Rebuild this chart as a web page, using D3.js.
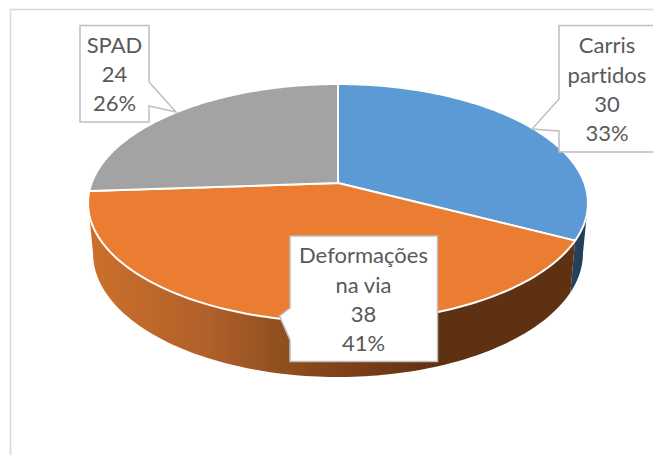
<!DOCTYPE html>
<html><head><meta charset="utf-8">
<style>html,body{margin:0;padding:0;background:#fff;overflow:hidden}svg{display:block}text{font-family:Lato,"Open Sans",sans-serif;font-size:22px;fill:#595959;text-anchor:middle;font-variant-ligatures:none}</style>
<script src="https://cdn.jsdelivr.net/npm/d3@7"></script></head><body>
<script>
const categories = ["Carris partidos", "Deformações na via", "SPAD"];
const values = [30, 38, 24];
const labelLines = [["Carris", "partidos"], ["Deformações", "na via"], ["SPAD"]];
const topColors = ["#5b9ad5", "#ea7d32", "#a3a3a3"];
const wallStops = [
  [["0%", "#24425e"], ["100%", "#1f3d58"]],
  [["0%", "#cc702b"], ["25%", "#b0602a"], ["40%", "#8f4f1e"], ["52%", "#80401a"], ["72%", "#5f3113"], ["100%", "#5f3113"]],
  [["0%", "#636363"], ["100%", "#636363"]]
];
const boxes = [
  {x0:559,x1:656,y0:25.5,y1:152,tip:[532,129],ya:99,yb:131,side:"l",cx:607,base:[53,83,112,141]},
  {x0:290,x1:437.5,y0:236,y1:361.5,tip:[279.5,316],ya:308,yb:340,side:"l",cx:363.5,base:[263,293,322,351]},
  {x0:80,x1:149,y0:25.5,y1:122,tip:[176,112],ya:82,yb:106,side:"r",cx:114.5,base:[53,82,111]}
];
const W = 653, H = 455, ecc = 0.168, depthOff = 49.5, depthY = 1.04, bottomX = 0.98;
const sx = d3.scaleLinear().domain([-1, 1]).range([338 - 246.4, 338 + 246.4]);
const sy = d3.scaleLinear().domain([-1, 1]).range([183 + 115.6, 183 - 115.6]);
function proj(a, bottom) {
  const d = 1 + ecc * Math.cos(a), u = Math.sin(a) / d, v = Math.cos(a) / d;
  if (!bottom) return [sx(u), sy(v)];
  return [338 + (sx(u) - 338) * bottomX, 183 + depthOff + (sy(v) - 183) * depthY];
}
const arcPts = (a0, a1, bottom) => d3.range(0, 121).map(i => proj(a0 + (a1 - a0) * i / 120, bottom));
const line = d3.line();
const svg = d3.select("body").append("svg").attr("width", W).attr("height", H);
const defs = svg.append("defs");
svg.append("rect").attr("width", W).attr("height", H).attr("fill", "#fff");
svg.append("rect").attr("x", 10.5).attr("y", 9.5).attr("width", 700).attr("height", 600)
  .attr("fill", "none").attr("stroke", "#d9d9d9").attr("stroke-width", 1.6);

const arcs = d3.pie().sort(null).value(d => d)(values);
const visA = Math.acos(-ecc), visB = 2 * Math.PI - visA;
arcs.forEach((s, i) => {
  const a0 = Math.max(s.startAngle, visA), a1 = Math.min(s.endAngle, visB);
  if (a1 <= a0) return;
  const id = "wall" + i, p0 = proj(a0), p1 = proj(a1);
  const g = defs.append("linearGradient").attr("id", id).attr("gradientUnits", "userSpaceOnUse")
    .attr("x1", Math.min(p0[0], p1[0])).attr("x2", Math.max(p0[0], p1[0])).attr("y1", 0).attr("y2", 0);
  g.selectAll("stop").data(wallStops[i]).join("stop").attr("offset", d => d[0]).attr("stop-color", d => d[1]);
  const pts = arcPts(a0, a1, false).concat(arcPts(a1, a0, true));
  svg.append("path").attr("d", line(pts) + "Z").attr("fill", `url(#${id})`);
});
arcs.forEach((s, i) => {
  const pts = [[sx(0), sy(0)]].concat(arcPts(s.startAngle, s.endAngle, false));
  svg.append("path").attr("d", line(pts) + "Z").attr("fill", topColors[i])
    .attr("stroke", "#fff").attr("stroke-width", 2).attr("stroke-linejoin", "round");
});
const total = d3.sum(values), pct = d3.format(".0%");
boxes.forEach((b, i) => {
  const xe = b.side === "l" ? b.x0 : b.x1;
  const pts = b.side === "l"
    ? [[b.x0,b.y0],[b.x1,b.y0],[b.x1,b.y1],[b.x0,b.y1],[xe,b.yb],b.tip,[xe,b.ya]]
    : [[b.x0,b.y0],[b.x1,b.y0],[xe,b.ya],b.tip,[xe,b.yb],[b.x1,b.y1],[b.x0,b.y1]];
  svg.append("path").attr("d", line(pts) + "Z").attr("fill", "#fff")
    .attr("stroke", "#bfbfbf").attr("stroke-width", 1.5);
  const lines = labelLines[i].concat([String(values[i]), pct(values[i] / total)]);
  svg.selectAll(null).data(lines).join("text").attr("x", b.cx).attr("y", (d, k) => b.base[k]).text(d => d);
});
</script></body></html>
